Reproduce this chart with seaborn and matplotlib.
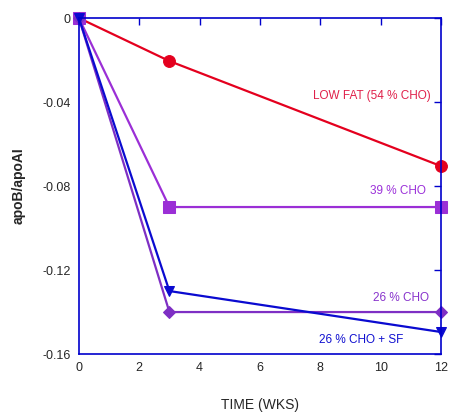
import matplotlib
matplotlib.use("Agg")
import matplotlib.pyplot as plt
import seaborn as sns
import pandas as pd

weeks = [0, 3, 12]
low_fat = [0.0, -0.0205, -0.0705]
cho39 = [0.0, -0.09, -0.09]
cho26 = [0.0, -0.14, -0.14]
cho26_sf = [0.0, -0.13, -0.1495]

series_names = ["LOW FAT (54 % CHO)", "39 % CHO", "26 % CHO", "26 % CHO + SF"]
series_vals = [low_fat, cho39, cho26, cho26_sf]
colors = ["#e4001e", "#9b2fd6", "#7e2fc4", "#0a0ad0"]
label_colors = ["#e0204a", "#9b30d9", "#8833cc", "#1010d0"]
markers = ["o", "s", "D", "v"]
msizes = [8.5, 8, 6, 7.5]
label_pos = [(11.65, -0.0372), (11.5, -0.0822), (11.6, -0.1333), (10.75, -0.1533)]

sns.set_style("white")
plt.rcParams['font.family'] = ['Liberation Sans', 'DejaVu Sans']

fig = plt.figure(figsize=(4.56, 4.19), dpi=100)
ax = fig.add_axes([0.173, 0.155, 0.794, 0.802])

for name, vals, c, m, ms in zip(series_names, series_vals, colors, markers, msizes):
    df = pd.DataFrame({"week": weeks, "val": vals})
    sns.lineplot(data=df, x="week", y="val", ax=ax, color=c, marker=m,
                 markersize=ms, markeredgecolor=c, linewidth=1.6, clip_on=False)

for name, (lx, ly), lc in zip(series_names, label_pos, label_colors):
    ax.text(lx, ly, name, color=lc, fontsize=8.5, ha="right", va="center")

ax.set_xlim(0, 12)
ax.set_ylim(-0.16, 0)
ax.set_xticks([0, 2, 4, 6, 8, 10, 12])
ax.set_yticks([-0.16, -0.12, -0.08, -0.04, 0])
ax.set_yticklabels(["-0.16", "-0.12", "-0.08", "-0.04", "0"])
ax.tick_params(direction="in", length=5, color="#0000cc", width=1,
               top=True, right=True, labelsize=9, pad=6)
for s in ax.spines.values():
    s.set_color("#0000cc")
    s.set_linewidth(1.2)
ax.set_xlabel("TIME (WKS)", fontsize=10, labelpad=17)
ax.set_ylabel("apoB/apoAI", fontsize=10, fontweight="bold", labelpad=12)

fig.savefig("out.png", dpi=100)
